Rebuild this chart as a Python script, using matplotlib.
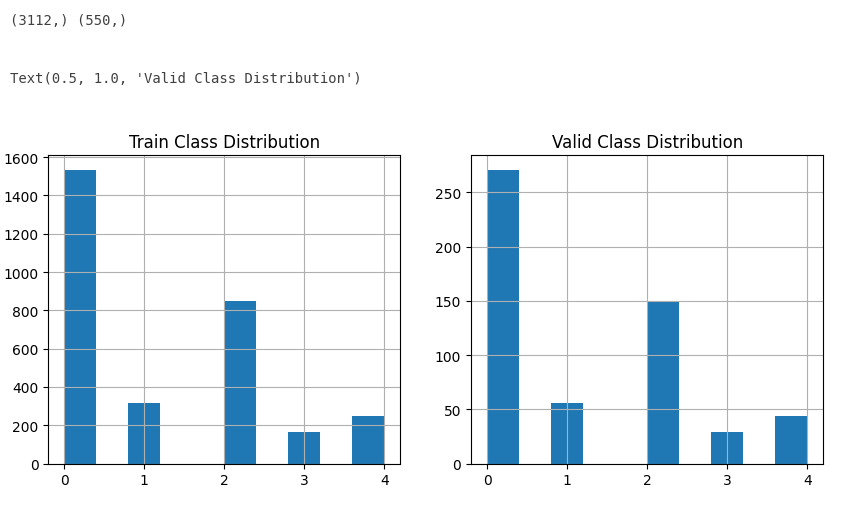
import numpy as np
from matplotlib import pyplot as plt

# class counts (APTOS-style 5 classes)
classes = [0, 1, 2, 3, 4]
train_counts = [1534, 314, 849, 164, 251]
valid_counts = [271, 56, 150, 29, 44]

out_lines = ["(3112,) (550,)", "Text(0.5, 1.0, 'Valid Class Distribution')"]

fig = plt.figure(figsize=(8.41, 5.06), dpi=100)

# notebook-style printed output above the plot
fig.text(10/841, 1 - 21/506, out_lines[0], family='DejaVu Sans Mono',
         fontsize=10, color='#404040', va='center', ha='left')
fig.text(10/841, 1 - 79/506, out_lines[1], family='DejaVu Sans Mono',
         fontsize=10, color='#404040', va='center', ha='left')

ax1 = fig.add_axes([48.3/841, 1 - 464.6/506, 352/841, 308.6/506])
ax2 = fig.add_axes([471/841, 1 - 464.6/506, 352.3/841, 308.6/506])

for ax, counts, title in [(ax1, train_counts, 'Train Class Distribution'),
                          (ax2, valid_counts, 'Valid Class Distribution')]:
    ax.hist(classes, bins=10, weights=counts, color='#1f77b4')
    ax.grid(True)  # grid drawn over the bars, like pandas .hist()
    ax.set_title(title, fontsize=12)
    ax.set_xticks(classes)

fig.savefig('out.png', dpi=100)
